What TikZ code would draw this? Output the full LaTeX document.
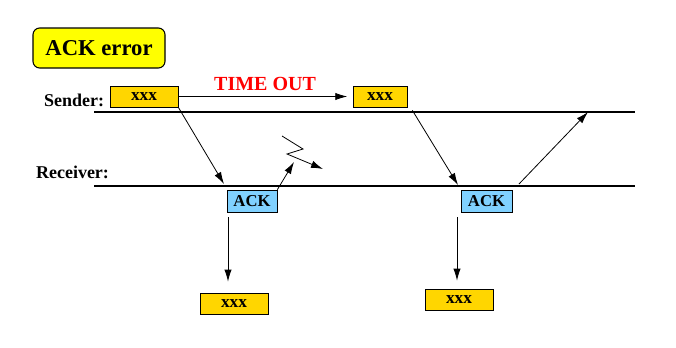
\documentclass[tikz,border=0pt]{standalone}
\usepackage{fontspec}
\setmainfont{Liberation Serif}
\usepackage{xcolor}
\usepackage{tikz}
\usetikzlibrary{arrows.meta,positioning,calc}
\definecolor{titleyellow}{rgb}{1.00,1.00,0.00}
\definecolor{pktgold}{rgb}{1.00,0.84,0.00}
\definecolor{ackblue}{rgb}{0.50,0.82,1.00}
\tikzset{
  pkt/.style={draw,semithick,fill=pktgold,minimum height=15.75pt,inner sep=0pt,
    font=\fontsize{13}{14}\selectfont\bfseries},
  ackbox/.style={draw,semithick,fill=ackblue,minimum width=37.5pt,
    minimum height=16.5pt,inner sep=0pt,
    font=\fontsize{12.5}{14}\selectfont\bfseries},
  lbl/.style={font=\fontsize{13.5}{15}\selectfont\bfseries},
  msg/.style={-{Latex[length=9pt,width=5.5pt]},semithick},
  timeline/.style={line width=1.5pt}
}
\begin{document}
\begin{tikzpicture}[x=0.75pt,y=-0.75pt]
        \useasboundingbox (0,0) rectangle (676,347);
        % ---- sarlavha ----
        \node[draw,thick,rounded corners=5pt,fill=titleyellow,
              minimum width=99pt,minimum height=30pt,
              font=\fontsize{17}{20}\selectfont\bfseries]
            (title) at (99,48) {ACK error};
        % ---- vaqt chiziqlari ----
        \node[lbl] (sndlbl) at (74,100) {Sender:};
        \node[lbl] (rcvlbl) at (72.5,172) {Receiver:};
        \coordinate (sndL) at (94,112);
        \coordinate (sndR) at (635,112);
        \coordinate (rcvL) at (94,186);
        \coordinate (rcvR) at (635,186);
        \draw[timeline] (sndL)--(sndR);
        \draw[timeline] (rcvL)--(rcvR);
        % ---- paketlar ----
        \node[pkt,minimum width=51pt] (s1) at (144,96.5) {xxx};
        \node[pkt,minimum width=40.5pt] (s2) at (380,96.5) {xxx};
        \node[ackbox] (a1) at (252,201) {ACK};
        \node[ackbox,minimum width=38.25pt] (a2) at (486.5,201) {ACK};
        \node[pkt,minimum width=51pt] (r1) at (234,303.5) {xxx};
        \node[pkt,minimum width=51pt] (r2) at (459,299.5) {xxx};
        % ---- time out ----
        \node[font=\fontsize{15}{17}\selectfont\bfseries,red]
            (tout) at (265,84) {TIME OUT};
        \draw[msg,shorten >=4] (s1.east)--(s2.west);
        % ---- xabarlar ----
        \coordinate (hit1) at (224,184);
        \coordinate (hit2) at (458,185);
        \coordinate (up1) at (294,162);
        \coordinate (up2) at (588,112);
        \coordinate (from2) at (519,184);
        \draw[msg] (s1.south east)--(hit1);
        \draw[msg] ($(s2.south east)+(5,3)$)--(hit2);
        \draw[msg] (a1.north east)--(up1);
        \draw[msg] (from2)--(up2);
        % ---- yo'qolgan ACK ----
        \coordinate (z1) at (282,136);
        \coordinate (z2) at (303,149);
        \coordinate (z3) at (287,154);
        \coordinate (z4) at (323,169);
        \draw[msg] (z1)--(z2)--(z3)--(z4);
        % ---- qabul qiluvchi ----
        \coordinate (dn1) at (228,217);
        \coordinate (dn2) at (457,217);
        \draw[msg] (dn1)--($(dn1 |- r1.north)+(0,-11)$);
        \draw[msg] (dn2)--($(dn2 |- r2.north)+(0,-8)$);
      \end{tikzpicture}
\end{document}
